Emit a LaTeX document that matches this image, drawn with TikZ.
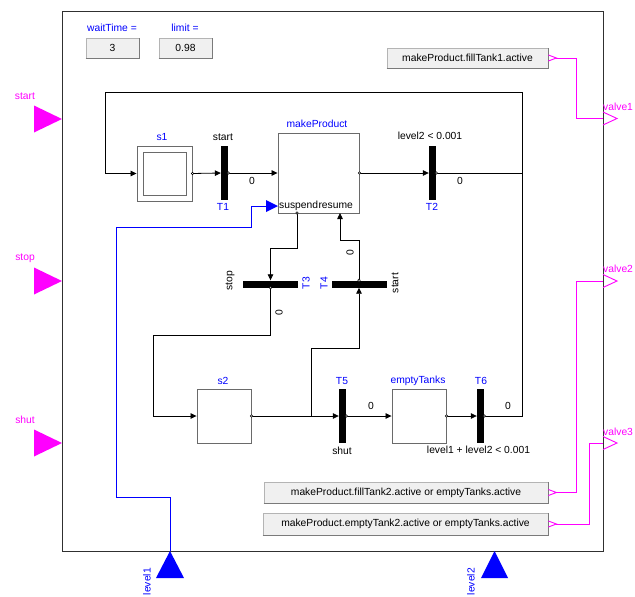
\documentclass[tikz,border=0pt]{standalone}
\usepackage{fontspec}
\setmainfont{Liberation Sans}
\usetikzlibrary{arrows.meta,positioning,calc}
\definecolor{sigMag}{RGB}{255,0,255}
\definecolor{nameBlue}{RGB}{0,0,255}
\definecolor{frameGray}{HTML}{303030}
\definecolor{boxGray}{HTML}{6A6A6A}
\definecolor{btnFill}{HTML}{F0F0F0}
\definecolor{btnEdge}{HTML}{B4B4B4}
\definecolor{btnShade}{HTML}{7A7A7A}
\tikzset{
  lbl/.style={font=\fontsize{10.3}{12}\selectfont, text=black, inner sep=0pt},
  bluelbl/.style={lbl, text=nameBlue},
  maglbl/.style={lbl, text=sigMag},
  stepbox/.style={draw=boxGray, fill=white, line width=0.9pt, minimum width=54, minimum height=54, inner sep=0pt},
  trans/.style={fill=black, minimum width=7, minimum height=54, inner sep=0pt},
  htrans/.style={fill=black, minimum width=55, minimum height=7, inner sep=0pt},
  button/.style={lbl, fill=btnFill, draw=btnEdge, line width=0.8pt, minimum height=20},
  btnshadow/.style={draw=btnShade, line width=1.2pt},
  flow/.style={draw=black, line width=0.8pt, -{Triangle[length=6pt,width=5.5pt]}},
  wire/.style={draw=black, line width=0.8pt},
  outdot/.style={circle, draw=black, fill=white, inner sep=0pt, minimum size=2.6pt, line width=0.5pt},
  magwire/.style={draw=sigMag, line width=0.9pt},
  bluewire/.style={draw=nameBlue, line width=0.9pt},
}

\begin{document}
\begin{tikzpicture}[x=1pt,y=-1pt]
  \fill[white] (0,0) rectangle (635,597);
  \useasboundingbox (0,0) rectangle (635,597);
  \draw[frameGray, line width=1pt] (62,11) rectangle (603,551);

  \node[bluelbl] (wtLbl) at (112,28) {waitTime =};
  \node[button, minimum width=53] (wt) at (112.5,48) {3};
  \draw[btnshadow] (wt.south west) -| (wt.north east);
  \node[bluelbl] (limLbl) at (185,28) {limit =};
  \node[button, minimum width=53] (lim) at (185.5,48) {0.98};
  \draw[btnshadow] (lim.south west) -| (lim.north east);

  \node[button, minimum width=161] (b1) at (467.5,58) {makeProduct.fillTank1.active};
  \draw[btnshadow] (b1.south west) -| (b1.north east);
  \node[button, minimum width=284, minimum height=21] (b2) at (406,492.5) {makeProduct.fillTank2.active or emptyTanks.active};
  \draw[btnshadow] (b2.south west) -| (b2.north east);
  \node[button, minimum width=285, minimum height=22] (b3) at (405.5,524) {makeProduct.emptyTank2.active or emptyTanks.active};
  \draw[btnshadow] (b3.south west) -| (b3.north east);

  \fill[sigMag] (34,105.5) -- (62,119) -- (34,132.5) -- cycle;
  \fill[sigMag] (34,267.5) -- (62,281) -- (34,294.5) -- cycle;
  \fill[sigMag] (34,429.5) -- (62,443) -- (34,456.5) -- cycle;
  \node[maglbl] (startLbl) at (25,96) {start};
  \node[maglbl] (stopLbl) at (25,258) {stop};
  \node[maglbl] (shutLbl) at (25,420) {shut};

  \coordinate (valve1) at (603,118.5);
  \coordinate (valve2) at (603,281);
  \coordinate (valve3) at (603,443);
  \draw[magwire] (603,112) -- (617,118.5) -- (603,125);
  \draw[magwire] (603,274.5) -- (617,281) -- (603,287.5);
  \draw[magwire] (603,436.5) -- (617,443) -- (603,449.5);
  \node[maglbl, anchor=west] (v1Lbl) at (603,107) {valve1};
  \node[maglbl, anchor=west] (v2Lbl) at (603,269) {valve2};
  \node[maglbl, anchor=west] (v3Lbl) at (603,432) {valve3};

  \draw[magwire] (b1.east) ++(0,-3) -- ++(8,3) -- ++(-8,3);
  \draw[magwire] (b2.east) ++(0,-3) -- ++(8,3) -- ++(-8,3);
  \draw[magwire] (b3.east) ++(0,-3) -- ++(8,3) -- ++(-8,3);
  \draw[magwire] ($(b1.east)+(8,0)$) -| (576,118.5) -- (valve1);
  \draw[magwire] ($(b2.east)+(8,0)$) -| (576,281) -- (valve2);
  \draw[magwire] ($(b3.east)+(8,0)$) -| (589,443) -- (valve3);

  \coordinate (lv1) at (170,551);
  \coordinate (lv2) at (494.5,551);
  \fill[nameBlue] (156,578) -- (lv1) -- (184,578) -- cycle;
  \fill[nameBlue] (481,578) -- (lv2) -- (508,578) -- cycle;
  \node[bluelbl, rotate=90, anchor=east] (lv1Lbl) at (147,568) {level1};
  \node[bluelbl, rotate=90, anchor=east] (lv2Lbl) at (471,568) {level2};

  \node[stepbox, minimum width=55, minimum height=55] (s1) at (164.5,173.5) {};
  \node[stepbox, minimum width=43, minimum height=43] (s1in) at (s1.center) {};
  \node[bluelbl] (s1Lbl) at (162,137) {s1};
  \node[trans] (T1) at (224.5,173) {};
  \node[lbl] (T1cond) at (223,137) {start};
  \node[bluelbl] (T1Lbl) at (223,207) {T1};
  \node[lbl] (T1d) at (252,181) {0};
  \node[stepbox, minimum width=81, minimum height=80] (mp) at (318.5,173) {};
  \node[bluelbl] (mpLbl) at (317,124) {makeProduct};
  \node[lbl, anchor=west] (suspLbl) at (279,206) {suspend};
  \node[lbl, anchor=west] (resLbl) at (suspLbl.east) {resume};
  \node[trans] (T2) at (432.5,173) {};
  \node[lbl] (T2cond) at (430,136) {level2 < 0.001};
  \node[bluelbl] (T2Lbl) at (432,207) {T2};
  \node[lbl] (T2d) at (460,181) {0};

  \node[htrans] (T3) at (270.5,284) {};
  \node[lbl, rotate=90] (T3cond) at (230,281) {stop};
  \node[bluelbl, rotate=90] (T3Lbl) at (306,283) {T3};
  \node[lbl, rotate=90] (T3d) at (279,313) {0};
  \node[htrans] (T4) at (359,284) {};
  \node[bluelbl, rotate=90] (T4Lbl) at (324,283) {T4};
  \node[lbl, rotate=90] (T4cond) at (395,283) {start};
  \node[lbl, rotate=90] (T4d) at (350,253) {0};

  \node[stepbox] (s2) at (224,416) {};
  \node[bluelbl] (s2Lbl) at (223,381) {s2};
  \node[trans] (T5) at (342.5,416) {};
  \node[bluelbl] (T5Lbl) at (342,381) {T5};
  \node[lbl] (T5cond) at (342,451) {shut};
  \node[lbl] (T5d) at (371,406) {0};
  \node[stepbox] (et) at (419,416) {};
  \node[bluelbl] (etLbl) at (418,381) {emptyTanks};
  \node[trans] (T6) at (480.5,416) {};
  \node[bluelbl] (T6Lbl) at (481,381) {T6};
  \node[lbl] (T6cond) at (478.5,450) {level1 + level2 < 0.001};
  \node[lbl] (T6d) at (508,406) {0};

  \coordinate (loopTR) at (522,92);
  \coordinate (loopTL) at (105,92);
  \coordinate (suspOut) at (297,213);
  \coordinate (resIn) at (340,213);
  \coordinate (fork) at (311,416);

  \draw[flow] (T2.east) -| (loopTR) -- (loopTL) |- (s1.west);
  \draw[wire] (T6.east) -| (loopTR);
  \draw[flow] (s1.east) -- (T1.west);
  \draw[flow] (T1.east) -- (mp.west);
  \draw[flow] (mp.east) -- (T2.west);
  \draw[flow] (suspOut) -- ++(0,35) -| (T3.north);
  \draw[flow] (T3.south) |- (153,335) |- (s2.west);
  \draw[flow] (s2.east) -- (T5.west);
  \draw[flow] (fork) -- ++(0,-68) -| (T4.south);
  \draw[flow] (T4.north) -- ++(0,-40) -| (resIn);
  \draw[flow] (T5.east) -- (et.west);
  \draw[flow] (et.east) -- (T6.west);

  \draw[bluewire] (lv1) |- (116,497) |- (251,227) |- (266,206);
  \fill[nameBlue] (266,200) -- (278,206) -- (266,212) -- cycle;

  \node[outdot] (s1o) at (s1.east) {};
  \node[outdot] (T1o) at (T1.east) {};
  \node[outdot] (mpo) at (mp.east) {};
  \node[outdot] (T2o) at (T2.east) {};
  \node[outdot] (spo) at (suspOut) {};
  \node[outdot] (T3o) at (T3.south) {};
  \node[outdot] (T4o) at (T4.north) {};
  \node[outdot] (s2o) at (s2.east) {};
  \node[outdot] (T5o) at (T5.east) {};
  \node[outdot] (eto) at (et.east) {};
  \node[outdot] (T6o) at (T6.east) {};
\end{tikzpicture}
\end{document}
